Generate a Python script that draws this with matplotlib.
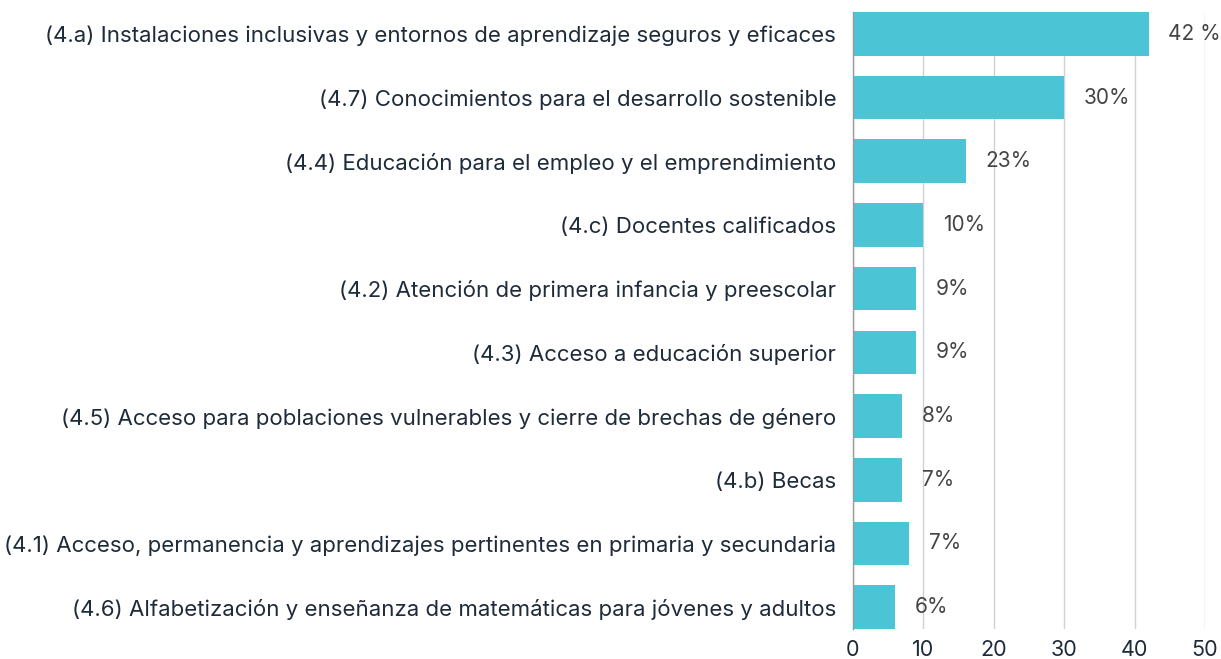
import matplotlib
matplotlib.use("Agg")
import matplotlib.pyplot as plt

categories = [
    "(4.a) Instalaciones inclusivas y entornos de aprendizaje seguros y eficaces",
    "(4.7) Conocimientos para el desarrollo sostenible",
    "(4.4) Educación para el empleo y el emprendimiento",
    "(4.c) Docentes calificados",
    "(4.2) Atención de primera infancia y preescolar",
    "(4.3) Acceso a educación superior",
    "(4.5) Acceso para poblaciones vulnerables y cierre de brechas de género",
    "(4.b) Becas",
    "(4.1) Acceso, permanencia y aprendizajes pertinentes en primaria y secundaria",
    "(4.6) Alfabetización y enseñanza de matemáticas para jóvenes y adultos",
]
values = [42, 30, 16, 10, 9, 9, 7, 7, 8, 6]
value_labels = ["42 %", "30%", "23%", "10%", "9%", "9%", "8%", "7%", "7%", "6%"]
xticks = [0, 10, 20, 30, 40, 50]

FONT = "Inter"
BAR = "#4BC5D6"
TEXT = "#1E2B3A"
VAL = "#444444"

fig = plt.figure(figsize=(12.21, 6.59), dpi=100)
ax = fig.add_axes([853 / 1221, 1 - 629 / 659, (1205 - 853) / 1221, (629 - 12) / 659])

bh = 0.686
y = list(range(len(categories)))
ax.barh(y, values, height=bh, color=BAR, zorder=3)
ax.set_ylim(len(categories) - 1 + bh / 2, -bh / 2)
ax.set_xlim(0, 50)

ax.set_xticks(xticks)
ax.set_xticklabels([str(t) for t in xticks], fontsize=15.5, color=TEXT, family=FONT)
ax.set_yticks(y)
ax.set_yticklabels(categories, fontsize=16, color=TEXT, family=FONT)
ax.tick_params(axis="both", length=0)
ax.tick_params(axis="y", pad=12)
ax.tick_params(axis="x", pad=8)

ax.grid(axis="x", color="#CDD1D8", linewidth=1, zorder=0)
for s in ["top", "right", "bottom"]:
    ax.spines[s].set_visible(False)
ax.spines["left"].set_color("#9A9A9A")
ax.spines["left"].set_linewidth(1)
ax.spines["left"].set_zorder(4)

for yi, v, lab in zip(y, values, value_labels):
    ax.annotate(lab, (v, yi), xytext=(14, 0), textcoords="offset points",
                va="center", ha="left", fontsize=15, color=VAL, family=FONT,
                annotation_clip=False)

fig.savefig("out.png", dpi=100, facecolor="white")
